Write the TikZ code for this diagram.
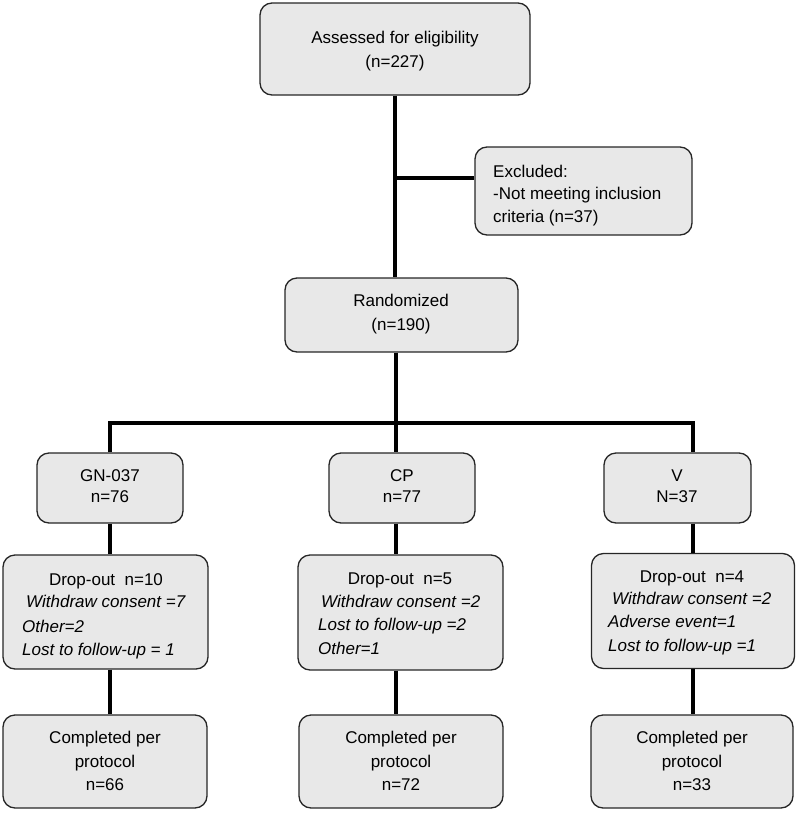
\documentclass[tikz,border=0pt]{standalone}
\usepackage{fontspec}
\setmainfont{Liberation Sans}
\begin{document}
\begin{tikzpicture}[x=1pt,y=-1pt,
  box/.style={draw=black!85,line width=1.3pt,fill=black!9,rounded corners=12pt,inner sep=0pt},
  conn/.style={line width=3.2pt,black},
  txt/.style={anchor=base,inner sep=0pt,font=\fontsize{17}{20}\selectfont},
  ltxt/.style={anchor=base west,inner sep=0pt,font=\fontsize{17}{20}\selectfont},
  itxt/.style={anchor=base west,inner sep=0pt,font=\fontsize{17}{20}\selectfont\itshape}]
\useasboundingbox (0,0) rectangle (797,814);
% boxes
\node[box,minimum width=270pt,minimum height=92pt] (top) at (395,49) {};
\node[box,minimum width=217pt,minimum height=88pt] (exc) at (583.5,191) {};
\node[box,minimum width=233pt,minimum height=74pt] (rnd) at (401.5,315) {};
\node[box,minimum width=146pt,minimum height=70pt] (gn) at (110,488) {};
\node[box,minimum width=146pt,minimum height=70pt] (cp) at (402,488) {};
\node[box,minimum width=147pt,minimum height=70pt] (v) at (677.5,488) {};
\node[box,minimum width=205pt,minimum height=114pt] (d1) at (105.5,612) {};
\node[box,minimum width=205pt,minimum height=115pt] (d2) at (400.5,612.5) {};
\node[box,minimum width=203pt,minimum height=115pt] (d3) at (693,611) {};
\node[box,minimum width=204pt,minimum height=93pt] (c1) at (105,761.5) {};
\node[box,minimum width=204pt,minimum height=93pt] (c2) at (401,761.5) {};
\node[box,minimum width=202pt,minimum height=93pt] (c3) at (692,761.5) {};
% helper coordinates
\coordinate (ax) at (395,0);
\coordinate (ey) at (0,178);
\coordinate (bx) at (396,0);
\coordinate (hy) at (0,423);
\coordinate (lx) at (110,0);
\coordinate (rx) at (693,0);
% connectors
\draw[conn] (ax |- top.south) -- (ax |- rnd.north);
\draw[conn] (ax |- ey) -- (exc.west |- ey);
\draw[conn] (bx |- rnd.south) -- (bx |- cp.north);
\draw[conn] (lx |- gn.north) -- (lx |- hy) -- (rx |- hy) -- (rx |- v.north);
\draw[conn] (lx |- gn.south) -- (lx |- d1.north);
\draw[conn] (lx |- d1.south) -- (lx |- c1.north);
\draw[conn] (bx |- cp.south) -- (bx |- d2.north);
\draw[conn] (bx |- d2.south) -- (bx |- c2.north);
\draw[conn] (rx |- v.south) -- (rx |- d3.north);
\draw[conn] (rx |- d3.south) -- (rx |- c3.north);
% texts
\node[txt] (t1a) at (395,43) {Assessed for eligibility};
\node[txt] (t1b) at (395,67) {(n=227)};
\node[ltxt] (e1) at (493,177) {Excluded:};
\node[ltxt] (e2) at (493,199) {-Not meeting inclusion};
\node[ltxt] (e3) at (493,222) {criteria (n=37)};
\node[txt] (r1) at (401,306) {Randomized};
\node[txt] (r2) at (401,330) {(n=190)};
\node[txt] (g1) at (110,481) {GN-037};
\node[txt] (g2) at (110,502) {n=76};
\node[txt] (p1) at (402,481) {CP};
\node[txt] (p2) at (402,502) {n=77};
\node[txt] (v1) at (677,481) {V};
\node[txt] (v2) at (677,502) {N=37};
\node[txt] (a1) at (106,585) {Drop-out\ \ n=10};
\node[itxt] (a2) at (26,607) {Withdraw consent =7};
\node[itxt] (a3) at (22,632) {Other=2};
\node[itxt] (a4) at (22,655) {Lost to follow-up = 1};
\node[txt] (b1) at (400,584) {Drop-out\ \ n=5};
\node[itxt] (b2) at (321,607) {Withdraw consent =2};
\node[itxt] (b3) at (318,630) {Lost to follow-up =2};
\node[itxt] (b4) at (318,654) {Other=1};
\node[txt] (f1) at (692,582) {Drop-out\ \ n=4};
\node[itxt] (f2) at (612,604) {Withdraw consent =2};
\node[itxt] (f3) at (608,627) {Adverse event=1};
\node[itxt] (f4) at (608,651) {Lost to follow-up =1};
\node[txt] (k1) at (105,743) {Completed per};
\node[txt] (k2) at (105,767) {protocol};
\node[txt] (k3) at (105,790) {n=66};
\node[txt] (m1) at (401,743) {Completed per};
\node[txt] (m2) at (401,767) {protocol};
\node[txt] (m3) at (401,790) {n=72};
\node[txt] (q1) at (692,743) {Completed per};
\node[txt] (q2) at (692,767) {protocol};
\node[txt] (q3) at (692,790) {n=33};
\end{tikzpicture}
\end{document}
